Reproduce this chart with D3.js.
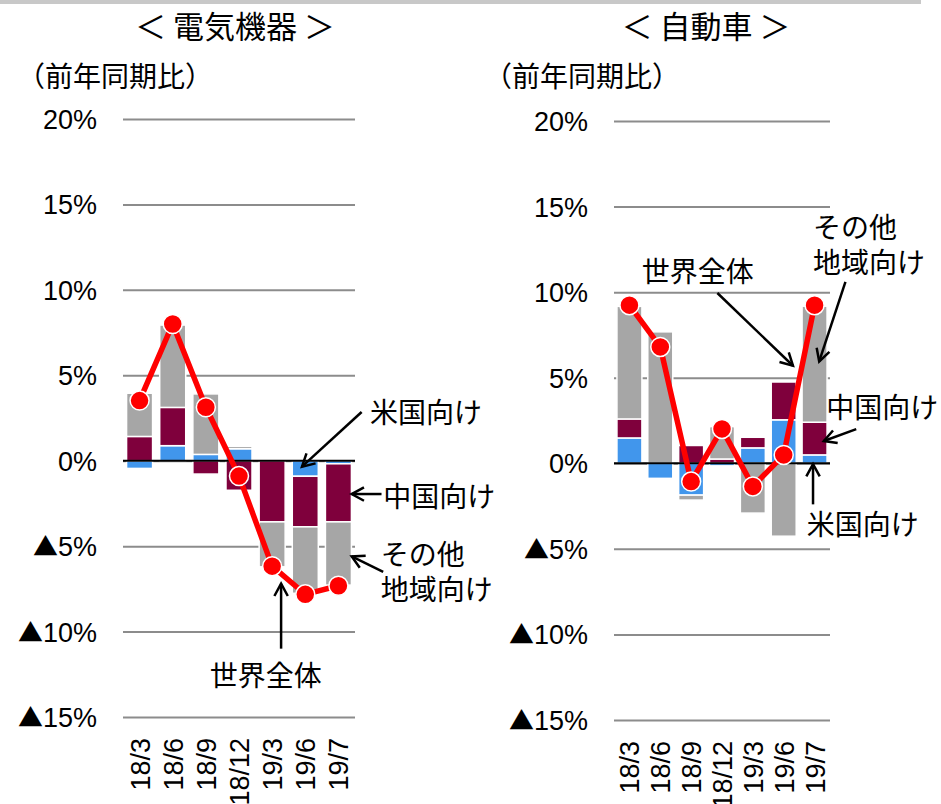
<!DOCTYPE html>
<html><head><meta charset="utf-8">
<script src="https://cdn.jsdelivr.net/npm/d3@7"></script>
<style>body{margin:0;background:#fff}svg{display:block}</style>
</head><body>
<script>
const categories = ["18/3","18/6","18/9","18/12","19/3","19/6","19/7"];
const yTicks = [20,15,10,5,0,-5,-10,-15];
const tickLabel = v => (v < 0 ? "▲" + (-v) : v) + "%";
// 電気機器
const elecUS    = [-0.45, 0.88, 0.37, 0.70,  0.00, -0.91, -0.18];
const elecChina = [ 1.42, 2.24,-0.78,-1.73, -3.58, -2.96, -3.40];
const elecOther = [ 2.53, 4.82, 3.54, 0.14, -2.63, -3.89, -3.70];
const elecTotal = [ 3.52, 8.00, 3.13,-0.90, -6.17, -7.82, -7.32];
// 自動車
const autoUS    = [ 1.48,-0.88,-1.86,-0.15,  0.90,  2.54,  0.49];
const autoChina = [ 1.11, 0.00, 1.04, 0.25,  0.62,  2.21,  1.91];
const autoOther = [ 6.58, 7.68,-0.29, 1.89, -2.91, -4.26,  6.78];
const autoTotal = [ 9.24, 6.80,-1.07, 2.01, -1.35,  0.49,  9.24];

const keys = ["us","china","other"];
const colors = {us:"#4196ec", china:"#7f003c", other:"#a6a6a6"};
const JP = "'Noto Sans CJK JP','Noto Sans',sans-serif";
const LAT = "'Liberation Sans',Arial,sans-serif";

const svg = d3.select("body").append("svg").attr("width",941).attr("height",804);
svg.append("rect").attr("x",0).attr("y",0).attr("width",921).attr("height",4).attr("fill","#c8c8c8");

function panel(cfg){
  const x = d3.scaleBand().domain(categories).range([cfg.x0,cfg.x1]).paddingInner(cfg.pad).paddingOuter(cfg.pad/2);
  const y = d3.scaleLinear().domain([-15,20]).range([cfg.yBot,cfg.yTop]);
  const g = svg.append("g");
  g.append("text").attr("x",cfg.titleX).attr("y",38).attr("text-anchor","middle")
    .attr("font-family",JP).attr("font-size",31).attr("fill","#000").text(cfg.title);
  g.append("text").attr("x",cfg.unitX).attr("y",87).attr("text-anchor","start")
    .attr("font-family",JP).attr("font-size",28).attr("fill","#000").text("（前年同期比）");
  // grid
  const ax = d3.axisLeft(y).tickValues(yTicks).tickSize(-(cfg.x1-cfg.x0)).tickFormat(tickLabel).tickPadding(26);
  const ag = g.append("g").attr("transform",`translate(${cfg.x0},0)`).call(ax);
  ag.select(".domain").remove();
  ag.selectAll(".tick line").attr("stroke","#8c8c8c").attr("stroke-width",2);
  ag.selectAll(".tick text").attr("font-family",LAT).attr("font-size",27).attr("fill","#000").attr("dy","0.35em")
    .each(function(){
      const t = d3.select(this), s = t.text();
      if (s.startsWith("▲")) {
        t.text(null);
        t.append("tspan").attr("font-family",JP).attr("font-size",25).text("▲");
        t.append("tspan").text(s.slice(1));
      }
    });
  // bars
  const rows = categories.map((c,i)=>({cat:c, us:cfg.us[i], china:cfg.china[i], other:cfg.other[i]}));
  const series = d3.stack().keys(keys).offset(d3.stackOffsetDiverging)(rows);
  g.append("g").selectAll("g").data(series).join("g").attr("fill",d=>colors[d.key])
    .selectAll("rect").data(d=>d).join("rect")
    .attr("x",d=>x(d.data.cat)).attr("width",x.bandwidth())
    .attr("y",d=>y(Math.max(d[0],d[1]))).attr("height",d=>Math.abs(y(d[0])-y(d[1])))
    .attr("stroke","#fff").attr("stroke-width",1.5);
  // zero line
  g.append("line").attr("x1",cfg.x0).attr("x2",cfg.x1).attr("y1",y(0)).attr("y2",y(0)).attr("stroke","#000").attr("stroke-width",2);
  // total line
  const cx = c => x(c)+x.bandwidth()/2;
  g.append("path").datum(cfg.total).attr("fill","none").attr("stroke","#ff0000").attr("stroke-width",5.5)
    .attr("d",d3.line().x((d,i)=>cx(categories[i])).y(d=>y(d)));
  g.append("g").selectAll("circle").data(cfg.total).join("circle")
    .attr("cx",(d,i)=>cx(categories[i])).attr("cy",d=>y(d)).attr("r",9.5)
    .attr("fill","#ff0000").attr("stroke","#fff").attr("stroke-width",1.5);
  // category labels
  g.append("g").selectAll("text").data(categories).join("text")
    .attr("transform",c=>`translate(${cx(c)+10},${cfg.yBot+21}) rotate(-90)`)
    .attr("text-anchor","end").attr("font-family",LAT).attr("font-size",27).attr("fill","#000").text(c=>c);
  // annotations: positions expressed as (category index offset, value)
  const px = v => x(categories[0]) + x.bandwidth()/2 + v*x.step();
  cfg.notes.forEach(n=>{
    n.lines.forEach((t,k)=>{
      g.append("text").attr("x",px(n.tx)).attr("y",y(n.ty)+k*35).attr("dy","0.35em")
        .attr("font-family",JP).attr("font-size",28).attr("fill","#000").text(t);
    });
    const x1=px(n.a[0]), y1=y(n.a[1]), x2=px(n.b[0]), y2=y(n.b[1]);
    g.append("line").attr("x1",x1).attr("y1",y1).attr("x2",x2).attr("y2",y2).attr("stroke","#000").attr("stroke-width",2.5);
    const ang = Math.atan2(y2-y1,x2-x1), L=14, w=0.5;
    g.append("path").attr("fill","none").attr("stroke","#000").attr("stroke-width",2.5)
      .attr("d",`M${x2-L*Math.cos(ang-w)},${y2-L*Math.sin(ang-w)}L${x2},${y2}L${x2-L*Math.cos(ang+w)},${y2-L*Math.sin(ang+w)}`);
  });
}

panel({title:"＜ 電気機器 ＞", titleX:235, unitX:17,
  x0:123, x1:355, pad:0.215, yTop:119, yBot:717,
  us:elecUS, china:elecChina, other:elecOther, total:elecTotal,
  notes:[
    {lines:["米国向け"], tx:6.95, ty:2.79, a:[6.7,2.85], b:[4.9,-0.35]},
    {lines:["中国向け"], tx:7.35, ty:-2.13, a:[7.3,-1.95], b:[6.4,-1.95]},
    {lines:["その他","地域向け"], tx:7.28, ty:-5.52, a:[7.35,-6.5], b:[6.4,-5.6]},
    {lines:["世界全体"], tx:2.12, ty:-12.6, a:[4.27,-11.0], b:[4.27,-7.2]}
  ]});

panel({title:"＜ 自動車 ＞", titleX:706, unitX:484,
  x0:614, x1:830, pad:0.19, yTop:121, yBot:720,
  us:autoUS, china:autoChina, other:autoOther, total:autoTotal,
  notes:[
    {lines:["世界全体"], tx:0.4, ty:11.18, a:[2.85,9.95], b:[5.3,5.7]},
    {lines:["その他","地域向け"], tx:5.95, ty:13.75, a:[7.0,10.6], b:[6.15,5.95]},
    {lines:["中国向け"], tx:6.38, ty:3.23, a:[7.35,2.0], b:[6.3,1.3]},
    {lines:["米国向け"], tx:5.75, ty:-3.6, a:[5.95,-2.4], b:[5.95,-0.05]}
  ]});
</script>
</body></html>
